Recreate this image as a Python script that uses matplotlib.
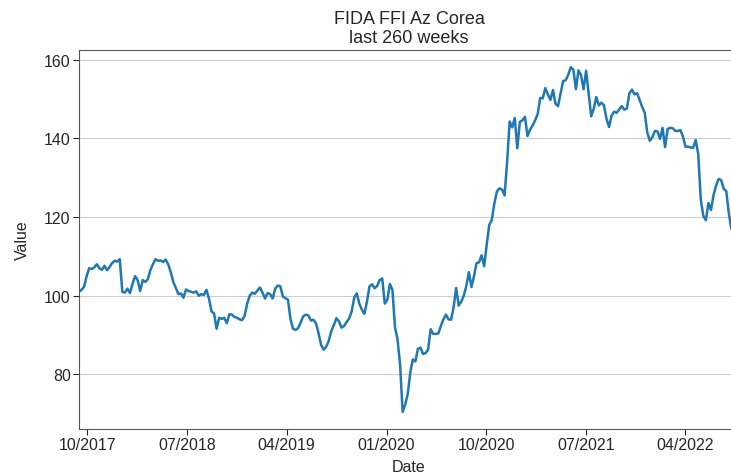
#!/usr/bin/python3
"""
Weekly value of FIDA FFI Az Corea over the last 260 weeks.
"""

import matplotlib
matplotlib.use("Agg")
import matplotlib.pyplot as plt
import matplotlib.dates as mdates
import pandas as pd
import seaborn as sns

TITLE = "FIDA FFI Az Corea\nlast 260 weeks"
START = "2017-09-08"

# weekly values (10 per row)
values = [
    101.0, 101.5, 102.3, 105.0, 107.0, 106.8, 107.2, 108.0, 107.0, 106.6,
    107.6, 106.5, 107.3, 108.3, 108.9, 108.7, 109.3, 101.0, 100.8, 101.8,
    100.7, 103.0, 105.0, 104.0, 101.2, 104.0, 103.5, 104.2, 106.5, 108.0,
    109.3, 108.9, 109.0, 108.6, 109.2, 108.0, 106.0, 103.5, 102.0, 100.4,
    100.6, 99.5, 101.6, 101.2, 101.0, 100.8, 101.1, 100.0, 100.4, 100.2,
    101.5, 99.3, 96.0, 95.5, 91.6, 94.4, 94.1, 94.4, 93.0, 95.3,
    95.2, 94.6, 94.4, 94.0, 93.8, 94.9, 98.0, 100.0, 100.8, 100.5,
    101.3, 102.1, 100.8, 99.3, 100.7, 100.4, 99.3, 101.8, 102.6, 102.4,
    99.8, 99.4, 99.0, 94.0, 91.6, 91.3, 91.8, 93.2, 94.8, 95.2,
    95.0, 93.7, 93.9, 93.0, 90.5, 87.5, 86.3, 87.0, 88.5, 91.0,
    92.5, 94.3, 93.5, 91.9, 92.3, 93.3, 94.2, 96.0, 99.5, 100.6,
    98.0, 96.5, 95.4, 98.5, 102.4, 102.9, 101.9, 102.5, 104.0, 104.4,
    98.0, 99.0, 103.0, 101.5, 92.0, 88.9, 82.5, 70.5, 72.3, 75.0,
    80.5, 83.8, 83.3, 86.5, 86.8, 85.2, 85.4, 86.3, 91.5, 90.3,
    90.3, 90.4, 92.3, 94.0, 95.2, 94.0, 93.9, 97.0, 102.0, 97.5,
    98.5, 100.0, 102.5, 106.0, 102.2, 105.0, 108.3, 108.5, 110.3, 107.5,
    113.0, 118.0, 119.3, 123.5, 126.5, 127.3, 127.0, 125.5, 134.0, 144.3,
    142.8, 145.2, 137.5, 144.2, 144.6, 145.5, 140.6, 142.2, 143.3, 144.6,
    146.2, 150.3, 150.2, 152.8, 151.2, 149.8, 152.3, 148.8, 148.2, 151.5,
    154.6, 154.8, 156.2, 158.1, 157.5, 152.5, 157.3, 156.1, 152.5, 157.2,
    151.3, 145.6, 147.6, 150.5, 148.4, 149.1, 148.4, 145.0, 142.9, 145.8,
    146.8, 146.5, 147.4, 148.2, 147.3, 147.6, 151.5, 152.4, 151.2, 151.5,
    149.8, 148.0, 146.5, 141.5, 139.4, 140.3, 141.9, 141.8, 139.9, 142.7,
    137.8, 142.4, 142.7, 142.6, 141.9, 141.9, 142.1, 140.5, 137.9, 137.9,
    137.7, 137.6, 139.6, 136.0, 124.5, 120.3, 119.2, 123.6, 121.8, 125.6,
    128.0, 129.7, 129.4, 127.2, 126.6, 121.0, 117.0, 116.5, 116.0, 115.5,
]

tick_dates = ["2017-10-01", "2018-07-01", "2019-04-01", "2020-01-01",
              "2020-10-01", "2021-07-01", "2022-04-01"]
yticks = [80, 100, 120, 140, 160]

sns.set_style("ticks")
plt.rcParams["font.family"] = ["Liberation Sans", "DejaVu Sans"]

dates = pd.date_range(START, periods=len(values), freq="W-FRI")

fig = plt.figure(figsize=(7.31, 4.77), dpi=100)
ax = fig.add_axes([79 / 731, 47 / 477, 660 / 731, 379 / 477])

ax.plot(dates, values, color="#1f77b4", linewidth=1.8)
ax.set_xlim(dates[0], dates[-1])

ax.grid(axis="y", color="#cccccc", linewidth=0.8)
ax.set_yticks(yticks)
ax.set_xticks(pd.to_datetime(tick_dates))
ax.xaxis.set_major_formatter(mdates.DateFormatter("%m/%Y"))
ax.tick_params(axis="both", labelsize=11.5, colors="#262626", length=4, pad=2)
for side in ("top", "left", "bottom", "right"):
    ax.spines[side].set_color("#555555")

ax.set_title(TITLE, fontsize=13, color="#262626", pad=6, linespacing=1.1)
ax.set_xlabel("Date", fontsize=11.5, color="#262626", labelpad=5)
ax.set_ylabel("Value", fontsize=11.5, color="#262626", labelpad=10)

fig.savefig("out.png", dpi=100)
